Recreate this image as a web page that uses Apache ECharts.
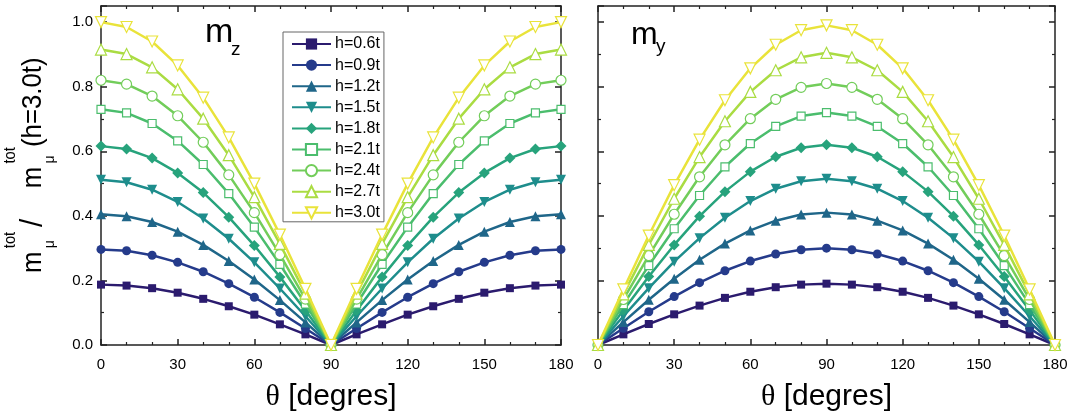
<!DOCTYPE html>
<html>
<head>
<meta charset="utf-8">
<script src="https://cdn.jsdelivr.net/npm/echarts@6/dist/echarts.min.js"></script>
<style>
html,body{margin:0;padding:0;background:#fff;}
#chart{width:1075px;height:417px;}
</style>
</head>
<body>
<div id="chart"></div>
<script>
// ---- data ----
const theta = [0,10,20,30,40,50,60,70,80,90,100,110,120,130,140,150,160,170,180];
const xTicks = [0,30,60,90,120,150,180];
const seriesNames = ['h=0.6t','h=0.9t','h=1.2t','h=1.5t','h=1.8t','h=2.1t','h=2.4t','h=2.7t','h=3.0t'];

// m_z panel (left)
const mz06 = [0.187,0.184,0.176,0.162,0.143,0.120,0.094,0.064,0.033,0,0.033,0.064,0.094,0.120,0.143,0.162,0.176,0.184,0.187];
const mz09 = [0.296,0.292,0.278,0.256,0.227,0.190,0.148,0.101,0.051,0,0.051,0.101,0.148,0.190,0.227,0.256,0.278,0.292,0.296];
const mz12 = [0.405,0.399,0.381,0.351,0.310,0.260,0.203,0.139,0.070,0,0.070,0.139,0.203,0.260,0.310,0.351,0.381,0.399,0.405];
const mz15 = [0.512,0.504,0.481,0.443,0.392,0.329,0.256,0.175,0.089,0,0.089,0.175,0.256,0.329,0.392,0.443,0.481,0.504,0.512];
const mz18 = [0.616,0.607,0.579,0.533,0.472,0.396,0.308,0.211,0.107,0,0.107,0.211,0.308,0.396,0.472,0.533,0.579,0.607,0.616];
const mz21 = [0.730,0.719,0.686,0.632,0.559,0.469,0.365,0.250,0.127,0,0.127,0.250,0.365,0.469,0.559,0.632,0.686,0.719,0.730];
const mz24 = [0.820,0.808,0.771,0.710,0.628,0.527,0.410,0.280,0.142,0,0.142,0.280,0.410,0.527,0.628,0.710,0.771,0.808,0.820];
const mz27 = [0.915,0.901,0.860,0.792,0.701,0.588,0.458,0.313,0.159,0,0.159,0.313,0.458,0.588,0.701,0.792,0.860,0.901,0.915];
const mz30 = [1.000,0.985,0.940,0.866,0.766,0.643,0.500,0.342,0.174,0,0.174,0.342,0.500,0.643,0.766,0.866,0.940,0.985,1.000];

// m_y panel (right)
const my06 = [0,0.033,0.065,0.095,0.122,0.146,0.165,0.179,0.187,0.190,0.187,0.179,0.165,0.146,0.122,0.095,0.065,0.033,0];
const my09 = [0,0.052,0.103,0.150,0.193,0.230,0.260,0.282,0.295,0.300,0.295,0.282,0.260,0.230,0.193,0.150,0.103,0.052,0];
const my12 = [0,0.071,0.140,0.205,0.264,0.314,0.355,0.385,0.404,0.410,0.404,0.385,0.355,0.314,0.264,0.205,0.140,0.071,0];
const my15 = [0,0.089,0.176,0.258,0.331,0.394,0.446,0.484,0.507,0.515,0.507,0.484,0.446,0.394,0.331,0.258,0.176,0.089,0];
const my18 = [0,0.108,0.212,0.310,0.399,0.475,0.537,0.583,0.611,0.620,0.611,0.583,0.537,0.475,0.399,0.310,0.212,0.108,0];
const my21 = [0,0.125,0.246,0.360,0.463,0.552,0.624,0.677,0.709,0.720,0.709,0.677,0.624,0.552,0.463,0.360,0.246,0.125,0];
const my24 = [0,0.141,0.277,0.405,0.521,0.620,0.701,0.761,0.798,0.810,0.798,0.761,0.701,0.620,0.521,0.405,0.277,0.141,0];
const my27 = [0,0.157,0.310,0.453,0.582,0.693,0.784,0.851,0.891,0.905,0.891,0.851,0.784,0.693,0.582,0.453,0.310,0.157,0];
const my30 = [0,0.172,0.339,0.495,0.636,0.758,0.857,0.930,0.975,0.990,0.975,0.930,0.857,0.758,0.636,0.495,0.339,0.172,0];

const mzSets = [mz06,mz09,mz12,mz15,mz18,mz21,mz24,mz27,mz30];
const mySets = [my06,my09,my12,my15,my18,my21,my24,my27,my30];

// ---- styles ----
const colors = ['#2b1b6e','#253b8b','#1f6689','#1e8d8c','#27a37c','#4bbd6d','#72cd5a','#aadc42','#e9e33a'];
const downTri = 'path://M0,0 L10,0 L5,9 Z';
const symbols = ['rect','circle','triangle',downTri,'diamond','rect','circle','triangle',downTri];
const sizes   = [8,9,10,10,11,8,10,11,11];
const filled  = [true,true,true,true,true,false,false,false,false];

const FONT = 'Arial, "Liberation Sans", sans-serif';
const AX = '#222';

function mkSeries(sets, xi, yi) {
  return sets.map((arr, k) => ({
    name: seriesNames[k],
    type: 'line',
    xAxisIndex: xi, yAxisIndex: yi,
    data: theta.map((t, i) => [t, arr[i]]),
    symbol: symbols[k],
    symbolSize: sizes[k],
    showAllSymbol: true,
    lineStyle: { color: colors[k], width: 2.5 },
    itemStyle: { color: filled[k] ? colors[k] : '#ffffff', borderColor: colors[k], borderWidth: filled[k] ? 0 : 1.2 },
    emphasis: { disabled: true },
    z: 2 + k
  }));
}

function xAx(gi, pos, label, name) {
  return {
    type: 'value', gridIndex: gi, position: pos, min: 0, max: 180, interval: 30,
    axisLine: { show: true, onZero: false, lineStyle: { color: AX, width: 1.5 } },
    axisTick: { show: true, inside: true, length: 6, lineStyle: { color: AX, width: 1.5 } },
    minorTick: { show: true, splitNumber: 3, length: 3, lineStyle: { color: AX, width: 1.2 } },
    splitLine: { show: false },
    axisLabel: { show: label, color: '#000', fontSize: 15, fontFamily: FONT, margin: 12 },
    name: name || '', nameLocation: 'middle', nameGap: 37,
    nameTextStyle: { color: '#000', fontSize: 30, fontFamily: FONT,
      rich: { t: { fontSize: 30, fontFamily: '"Liberation Serif", "DejaVu Serif", serif', color: '#000' } } }
  };
}
function yAx(gi, pos, label) {
  return {
    type: 'value', gridIndex: gi, position: pos, min: 0, max: 1.05, interval: 0.2,
    axisLine: { show: true, onZero: false, lineStyle: { color: AX, width: 1.5 } },
    axisTick: { show: true, inside: true, length: 6, lineStyle: { color: AX, width: 1.5 } },
    minorTick: { show: true, splitNumber: 2, length: 3, lineStyle: { color: AX, width: 1.2 } },
    splitLine: { show: false },
    axisLabel: { show: label, color: '#000', fontSize: 15, fontFamily: FONT, margin: 8,
      showMaxLabel: false, formatter: v => v.toFixed(1) }
  };
}

const option = {
  animation: false,
  backgroundColor: '#fff',
  grid: [
    { left: 101, right: 514, top: 6, bottom: 70, containLabel: false },
    { left: 598, right: 20, top: 6, bottom: 70, containLabel: false }
  ],
  xAxis: [
    xAx(0, 'bottom', true, '{t|θ} [degres]'), xAx(0, 'top', false),
    xAx(1, 'bottom', true, '{t|θ} [degres]'), xAx(1, 'top', false)
  ],
  yAxis: [
    yAx(0, 'left', true), yAx(0, 'right', false),
    yAx(1, 'left', false), yAx(1, 'right', false)
  ],
  legend: {
    data: seriesNames,
    orient: 'vertical',
    left: 283, top: 32,
    itemWidth: 39, itemHeight: 14, itemGap: 5.1,
    padding: [4, 4, 1, 8],
    borderColor: '#666', borderWidth: 1,
    backgroundColor: '#fff',
    selectedMode: false,
    textStyle: { color: '#000', fontSize: 16, lineHeight: 14, fontFamily: FONT, padding: [0,0,0,-1] }
  },
  graphic: [
    {
      type: 'group', x: 33, y: 273, rotation: Math.PI / 2, scaleX: 0.92, scaleY: 1,
      children: [
        { type: 'text', x: 0, y: 0, style: { text: 'm', fontSize: 28, fontFamily: FONT, fill: '#000', verticalAlign: 'middle' } },
        { type: 'text', x: 27, y: -22, style: { text: 'tot', fontSize: 16, fontFamily: FONT, fill: '#000', verticalAlign: 'middle' } },
        { type: 'text', x: 27, y: 17, style: { text: 'μ', fontSize: 15, fontFamily: FONT, fill: '#000', verticalAlign: 'middle' } },
        { type: 'text', x: 50, y: 0, style: { text: '/', fontSize: 32, fontFamily: FONT, fill: '#000', verticalAlign: 'middle' } },
        { type: 'text', x: 92, y: 0, style: { text: 'm', fontSize: 28, fontFamily: FONT, fill: '#000', verticalAlign: 'middle' } },
        { type: 'text', x: 119, y: -22, style: { text: 'tot', fontSize: 16, fontFamily: FONT, fill: '#000', verticalAlign: 'middle' } },
        { type: 'text', x: 119, y: 17, style: { text: 'μ', fontSize: 15, fontFamily: FONT, fill: '#000', verticalAlign: 'middle' } },
        { type: 'text', x: 137, y: 0, style: { text: '(h=3.0t)', fontSize: 28, fontFamily: FONT, fill: '#000', verticalAlign: 'middle' } }
      ]
    },
    { type: 'text', x: 205, y: 33, style: { text: 'm', fontSize: 34, fontFamily: FONT, fill: '#000', verticalAlign: 'middle' } },
    { type: 'text', x: 231, y: 50, style: { text: 'z', fontSize: 19, fontFamily: FONT, fill: '#000', verticalAlign: 'middle' } },
    { type: 'text', x: 631, y: 35, style: { text: 'm', fontSize: 32, fontFamily: FONT, fill: '#000', verticalAlign: 'middle' } },
    { type: 'text', x: 656, y: 47, style: { text: 'y', fontSize: 19, fontFamily: FONT, fill: '#000', verticalAlign: 'middle' } }
  ],
  series: mkSeries(mzSets, 0, 0).concat(mkSeries(mySets, 2, 2))
};

const chart = echarts.init(document.getElementById('chart'), null, { renderer: 'canvas' });
chart.setOption(option);
</script>
</body>
</html>
